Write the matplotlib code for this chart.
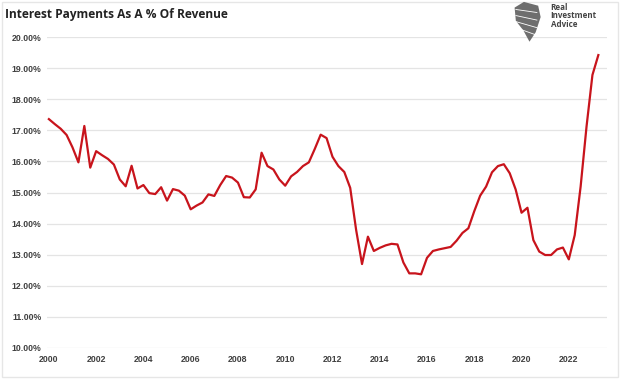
import numpy as np
import matplotlib.pyplot as plt
from matplotlib.patches import Polygon, Rectangle
from matplotlib.ticker import FuncFormatter

# quarterly readings, 2000 Q1 .. 2023 Q2
start_year = 2000
interest_pct = [
    17.36, 17.20, 17.05, 16.85, 16.45, 15.97, 17.14, 15.80,
    16.33, 16.20, 16.08, 15.90, 15.42, 15.20, 15.86, 15.13,
    15.24, 14.98, 14.95, 15.17, 14.74, 15.11, 15.06, 14.90,
    14.46, 14.58, 14.68, 14.94, 14.89, 15.24, 15.53, 15.48,
    15.32, 14.85, 14.84, 15.10, 16.28, 15.85, 15.74, 15.42,
    15.22, 15.52, 15.66, 15.85, 15.97, 16.40, 16.86, 16.75,
    16.15, 15.85, 15.66, 15.15, 13.80, 12.70, 13.58, 13.12,
    13.22, 13.30, 13.35, 13.33, 12.75, 12.40, 12.40, 12.37,
    12.90, 13.12, 13.17, 13.21, 13.25, 13.45, 13.70, 13.85,
    14.40, 14.90, 15.19, 15.65, 15.85, 15.91, 15.62, 15.10,
    14.35, 14.51, 13.47, 13.10, 12.99, 12.99, 13.17, 13.23,
    12.85, 13.63, 15.19, 17.12, 18.78, 19.42,
]
x_ticks = list(range(2000, 2023, 2))
y_ticks = list(range(10, 21))

years = start_year + np.arange(len(interest_pct)) / 4.0

fig = plt.figure(figsize=(6.2, 3.79), dpi=100)
fig.patch.set_facecolor('white')

# faint frame round the picture
fig.add_artist(Rectangle((0.003, 0.005), 0.994, 0.99, transform=fig.transFigure,
                         fill=False, edgecolor='#e6e6e6', linewidth=1.0))

ax = fig.add_axes([0.0758, 0.0818, 0.903, 0.8205])
ax.plot(years, interest_pct, color='#c8141c', linewidth=1.6, solid_joinstyle='round')

ax.set_xlim(1999.92, 2023.61)
ax.set_ylim(10, 20)
ax.set_xticks(x_ticks)
ax.set_yticks(y_ticks)
ax.yaxis.set_major_formatter(FuncFormatter(lambda v, _: f'{v:.2f}%'))
ax.grid(axis='y', color='#e4e4e4', linewidth=0.9)
ax.set_axisbelow(True)
for s in ax.spines.values():
    s.set_visible(False)
ax.tick_params(axis='both', length=0, labelsize=6.3, colors='#404040')
ax.tick_params(axis='y', pad=4)
ax.tick_params(axis='x', pad=5)
for lbl in ax.get_xticklabels() + ax.get_yticklabels():
    lbl.set_fontweight('bold')
    lbl.set_family('Liberation Sans')

fig.text(0.008, 0.962, 'Interest Payments As A % Of Revenue', fontsize=8.6,
         fontweight='bold', family='Open Sans', color='#222222', va='center')

# logo: grey head shape + text
lx, ly = 0.830, 0.955
pts = [(lx, ly + 0.025), (lx + 0.015, ly + 0.04), (lx + 0.038, ly + 0.03),
       (lx + 0.042, ly + 0.0), (lx + 0.034, ly - 0.04), (lx + 0.024, ly - 0.065),
       (lx + 0.014, ly - 0.035), (lx + 0.002, ly - 0.01)]
fig.add_artist(Polygon(pts, closed=True, transform=fig.transFigure,
                       facecolor='#6e6e6e', edgecolor='none'))
for i in range(4):
    fig.add_artist(plt.Line2D([lx + 0.002, lx + 0.036],
                              [ly + 0.02 - i * 0.016, ly + 0.012 - i * 0.02],
                              transform=fig.transFigure, color='white', linewidth=0.6))
fig.text(0.888, 0.958, 'Real\nInvestment\nAdvice', fontsize=5.8, fontweight='bold',
         family='Open Sans', color='#444444', va='center', linespacing=0.95)

fig.savefig('out.png', dpi=100)
